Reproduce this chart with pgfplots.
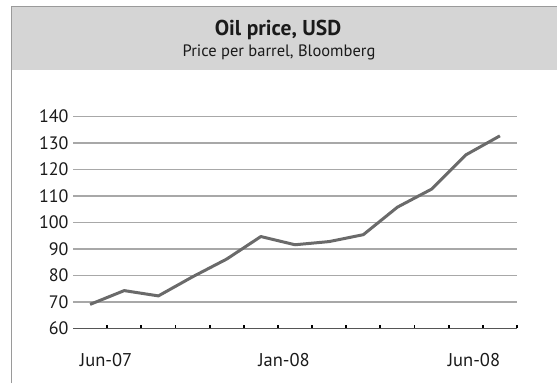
\documentclass[border=0pt]{standalone}
\usepackage{pgfplots}
\pgfplotsset{compat=1.18}
\usepackage{fontspec}
\setmainfont{PT Sans}
\definecolor{hdr}{HTML}{D5D5D5}
\definecolor{brd}{HTML}{9A9A9A}
\definecolor{grd}{HTML}{A8A8A8}
\definecolor{ln}{HTML}{6A6A6A}
\definecolor{txt}{HTML}{1A1A1A}
\begin{document}
\begin{tikzpicture}
\path[use as bounding box] (0pt,0pt) rectangle (557pt,383pt);
\fill[hdr] (11pt,312.5pt) rectangle (557pt,376pt);
\draw[brd, line width=1pt] (11pt,0pt) -- (11pt,376pt) -- (557pt,376pt);
\node[txt, font=\bfseries\fontsize{21.5}{24}\selectfont] at (278pt,353pt) {Oil price, USD};
\node[txt, font=\fontsize{16.5}{19}\selectfont] at (279pt,331pt) {Price per barrel, Bloomberg};
\begin{axis}[
  at={(73pt,54.5pt)}, anchor=south west,
  scale only axis, width=444pt, height=212pt,
  xmin=0, xmax=13, ymin=60, ymax=140,
  axis x line*=bottom, axis y line*=left,
  x axis line style={draw=ln!80!black, line width=1.6pt},
  y axis line style={draw=none},
  ytick={60,70,...,140},
  ymajorgrids, grid style={grd, line width=1.4pt},
  ytick style={draw=none},
  xtick={0.97,6.18,11.74},
  xticklabels={Jun-07,Jan-08,Jun-08},
  major x tick style={draw=none},
  minor xtick={1,2,...,13},
  minor x tick style={draw=black, line width=1.8pt},
  minor tick length=3pt,
  tick align=inside,
  xticklabel style={yshift=-21pt, font=\fontsize{18.5}{21}\selectfont},
  yticklabel style={xshift=-1pt, font=\fontsize{18}{21}\selectfont},
  tick label style={txt},
  /pgf/number format/assume math mode=true,
  clip=false,
]
\addplot[ln, line width=3pt, line join=round] coordinates {
(0.5,69.1) (1.5,74.3) (2.5,72.3) (3.5,79.5) (4.5,86.2) (5.5,94.7)
(6.5,91.6) (7.5,92.8) (8.5,95.4) (9.5,105.8) (10.5,112.6) (11.5,125.5) (12.5,132.7)
};
\end{axis}
\end{tikzpicture}
\end{document}
